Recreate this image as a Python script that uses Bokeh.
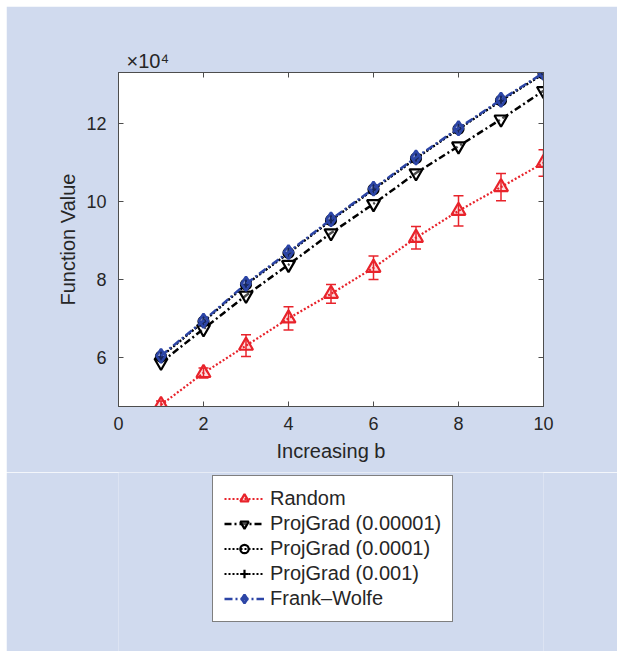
from bokeh.plotting import figure
from bokeh.layouts import column
from bokeh.models import (ColumnDataSource, Whisker, TeeHead, Legend, LegendItem,
                          LinearAxis, FixedTicker, Title, Range1d)
from bokeh.embed import file_html
from bokeh.resources import INLINE

# values in units of 10^4
b_values = [1, 2, 3, 4, 5, 6, 7, 8, 9, 10]
random_mean = [4.78, 5.60, 6.30, 7.00, 7.63, 8.30, 9.07, 9.76, 10.37, 10.99]
random_err = [0.10, 0.13, 0.28, 0.30, 0.24, 0.30, 0.29, 0.39, 0.35, 0.34]
projgrad_1e5 = [5.87, 6.73, 7.59, 8.38, 9.19, 9.94, 10.73, 11.42, 12.11, 12.84]
projgrad_1e4 = [6.02, 6.92, 7.87, 8.68, 9.52, 10.31, 11.11, 11.86, 12.59, 13.28]
projgrad_1e3 = [6.01, 6.91, 7.86, 8.67, 9.51, 10.30, 11.10, 11.85, 12.58, 13.27]
frank_wolfe = [6.04, 6.94, 7.89, 8.70, 9.54, 10.33, 11.13, 11.88, 12.61, 13.30]
x_ticks = [0, 2, 4, 6, 8, 10]
y_ticks = [6, 8, 10, 12]
series_labels = ["Random", "ProjGrad (0.00001)", "ProjGrad (0.0001)",
                 "ProjGrad (0.001)", "Frank\u2013Wolfe"]

BG = "#d0daee"
TXT = "#262626"
AX = "#4d4d4d"
RED = "#e8232b"
BLUE = "#2c45a6"
FONT = "Liberation Sans"

src = ColumnDataSource(dict(
    x=b_values, rnd=random_mean,
    upper=[m + e for m, e in zip(random_mean, random_err)],
    lower=[m - e for m, e in zip(random_mean, random_err)],
    pg5=projgrad_1e5, pg4=projgrad_1e4, pg3=projgrad_1e3, fw=frank_wolfe))

# ---------------- main chart ----------------
p = figure(width=611, height=466, margin=(6, 0, 0, 6),
           x_range=Range1d(0, 10), y_range=Range1d(4.74, 13.31),
           output_backend="svg", toolbar_location=None,
           min_border_left=112, min_border_right=74,
           min_border_top=66, min_border_bottom=66)
p.background_fill_color = "white"
p.border_fill_color = BG
p.outline_line_color = AX
p.outline_line_width = 1
p.grid.visible = False

def style_axis(ax, show_labels=True):
    ax.axis_line_color = AX
    ax.major_tick_line_color = AX
    ax.major_tick_in = 5
    ax.major_tick_out = 0
    ax.minor_tick_line_color = None
    ax.major_label_text_font = FONT
    ax.major_label_text_font_size = "18px"
    ax.major_label_text_color = TXT if show_labels else None
    ax.axis_label_text_font = FONT
    ax.axis_label_text_font_size = "20px"
    ax.axis_label_text_font_style = "normal"
    ax.axis_label_text_color = TXT

p.xaxis.ticker = FixedTicker(ticks=x_ticks)
p.yaxis.ticker = FixedTicker(ticks=y_ticks)
style_axis(p.xaxis[0])
style_axis(p.yaxis[0])
p.xaxis.major_label_standoff = 10
p.xaxis.axis_label = "Increasing b"
p.xaxis.axis_label_standoff = 7
p.yaxis.major_label_standoff = 12
p.yaxis.axis_label = "Function Value"
p.yaxis.axis_label_standoff = 4

top_ax = LinearAxis(ticker=FixedTicker(ticks=x_ticks))
right_ax = LinearAxis(ticker=FixedTicker(ticks=y_ticks))
style_axis(top_ax, False)
style_axis(right_ax, False)
p.add_layout(top_ax, "above")
p.add_layout(right_ax, "right")

# exponent marker above the axes
p.add_layout(Title(text="\u00d710\u2074", align="left", offset=8,
                   text_font=FONT, text_font_size="20px", text_font_style="normal",
                   text_color=TXT, standoff=2), "above")

def add_series(fig, visible=True):
    r1 = fig.line("x", "rnd", source=src, line_color=RED, line_width=2.2,
                  line_dash="2 2", visible=visible)
    if visible:
        fig.add_layout(Whisker(source=src, base="x", upper="upper", lower="lower",
                               line_color=RED, line_width=1.5,
                               upper_head=TeeHead(size=10, line_color=RED, line_width=1.5),
                               lower_head=TeeHead(size=10, line_color=RED, line_width=1.5)))
    r2 = fig.scatter("x", "rnd", source=src, marker="triangle", size=14,
                     line_color=RED, line_width=2.2, fill_color=RED, fill_alpha=0.15,
                     visible=visible)
    k1 = fig.line("x", "pg5", source=src, line_color="black", line_width=2.5,
                  line_dash="7 3 2 3", visible=visible)
    k2 = fig.scatter("x", "pg5", source=src, marker="inverted_triangle", size=13,
                     line_color="black", line_width=2.2, fill_color="white",
                     fill_alpha=0.3, visible=visible)
    c1 = fig.line("x", "pg4", source=src, line_color="black", line_width=2.2,
                  line_dash="2 2", visible=visible)
    c2 = fig.scatter("x", "pg4", source=src, marker="circle", size=10,
                     line_color="black", line_width=2.2, fill_color=None, visible=visible)
    d1 = fig.line("x", "pg3", source=src, line_color="black", line_width=1.8,
                  line_dash="2 2", visible=visible)
    d2 = fig.scatter("x", "pg3", source=src, marker="cross", size=11,
                     line_color="black", line_width=2.2, visible=visible)
    f1 = fig.line("x", "fw", source=src, line_color=BLUE, line_width=2.5,
                  line_dash="8 3 2 3", visible=visible)
    f2 = fig.scatter("x", "fw", source=src, marker="diamond", size=14,
                     line_color=BLUE, line_width=2.5, fill_color=BLUE,
                     fill_alpha=0.55, visible=visible)
    return [[r1, r2], [k1, k2], [c1, c2], [d1, d2], [f1, f2]]

add_series(p)

# ---------------- legend panel ----------------
q = figure(width=611, height=179, margin=(0, 0, 0, 6),
           x_range=Range1d(0, 1), y_range=Range1d(0, 1),
           output_backend="svg", toolbar_location=None,
           min_border=0, min_border_left=0, min_border_right=0,
           min_border_top=0, min_border_bottom=0)
q.axis.visible = False
q.grid.visible = False
q.outline_line_color = None
q.background_fill_color = BG
q.border_fill_color = BG
groups = add_series(q, visible=False)

legend = Legend(items=[LegendItem(label=lab, renderers=grp)
                       for lab, grp in zip(series_labels, groups)],
                location=(94, 29))
legend.click_policy = "none"
legend.margin = 0
legend.padding = 11
legend.spacing = 2
legend.label_height = 21
legend.glyph_height = 21
legend.glyph_width = 40
legend.label_standoff = 6
legend.label_text_font = FONT
legend.label_text_font_size = "20px"
legend.label_text_color = TXT
legend.border_line_color = "black"
legend.border_line_width = 1
legend.background_fill_color = "white"
legend.background_fill_alpha = 1
q.add_layout(legend)

layout = column(p, q, spacing=0)
open("out.html", "w").write(file_html(layout, INLINE))
